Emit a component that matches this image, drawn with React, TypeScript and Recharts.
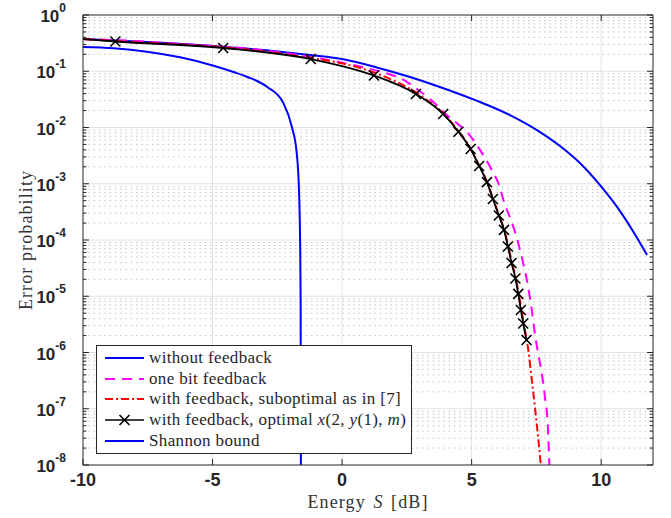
import React from 'react';
import { LineChart, Line, XAxis, YAxis, ReferenceLine } from 'recharts';

// ---------- axes ----------
const xTicks = [-10, -5, 0, 5, 10];
const yTicks = [1e-8, 1e-7, 1e-6, 1e-5, 1e-4, 1e-3, 1e-2, 1e-1, 1];
const xDomain = [-10, 12];
const yDomain = [1e-8, 1];

// ---------- series: without feedback ----------
const noFbX = [-10, -7.5, -5, -2.5, -1.23, 0.05, 1.34, 2.62, 3.91, 5.19, 6.48, 7.64, 8.41, 9.18, 10.02, 10.72, 11.37, 11.77];
const noFbY = [0.374, 0.33, 0.28, 0.225, 0.194, 0.163, 0.117, 0.079, 0.05, 0.030, 0.0166, 0.0083, 0.0047, 0.00234, 8.7e-4, 3.3e-4, 1.12e-4, 5.4e-5];

// ---------- series: one bit feedback ----------
const oneBitX = [-10, -8, -6, -4, -2, 0, 1.0, 1.72, 2.5, 2.94, 3.5, 4.04, 4.5, 4.81, 5.32, 5.71, 6.03, 6.29, 6.54, 6.8, 6.99, 7.18, 7.32, 7.44, 7.56, 7.7, 7.83, 7.94, 8.0];
const oneBitY = [0.374, 0.345, 0.30, 0.262, 0.205, 0.142, 0.112, 0.092, 0.065, 0.0464, 0.029, 0.0167, 0.0112, 0.0084, 0.004, 0.002, 0.00102, 4.2e-4, 2.12e-4, 8.75e-5, 3.86e-5, 1.48e-5, 5.7e-6, 2.19e-6, 1.0e-6, 4.5e-7, 1.6e-7, 5.0e-8, 1e-8];

// ---------- series: with feedback, suboptimal ----------
const subX = [-10, -8.75, -6, -4.59, -3, -1.2, 0, 1.23, 2.0, 2.85, 3.4, 3.9, 4.49, 4.96, 5.29, 5.6, 5.83, 6.06, 6.26, 6.42, 6.56, 6.71, 6.82, 6.93, 7.02, 7.2, 7.33, 7.45, 7.57, 7.67];
const subY = [0.374, 0.345, 0.295, 0.268, 0.225, 0.172, 0.138, 0.095, 0.068, 0.042, 0.028, 0.018, 0.0086, 0.0042, 0.0021, 0.00107, 5.4e-4, 2.75e-4, 1.5e-4, 7.6e-5, 3.9e-5, 2.05e-5, 1.08e-5, 5.6e-6, 3.2e-6, 1.0e-6, 3.0e-7, 1.0e-7, 3.0e-8, 1e-8];

// ---------- series: with feedback, optimal (markers) ----------
const optX = [-10, -8.75, -4.59, -1.21, 1.23, 2.85, 3.9, 4.49, 4.96, 5.29, 5.59, 5.82, 6.05, 6.25, 6.4, 6.54, 6.69, 6.8, 6.9, 6.99, 7.12];
const optY = [0.374, 0.338, 0.259, 0.165, 0.084, 0.0394, 0.0174, 0.0084, 0.00415, 0.00207, 0.00107, 5.35e-4, 2.73e-4, 1.51e-4, 7.66e-5, 3.9e-5, 2.07e-5, 1.1e-5, 5.7e-6, 3.28e-6, 1.67e-6];

// ---------- series: Shannon bound ----------
const shanX = [-10, -8.82, -7.53, -6.25, -4.96, -4.19, -3.68, -2.9, -2.26, -1.94, -1.75, -1.66, -1.62, -1.6, -1.59];
const shanY = [0.27, 0.256, 0.223, 0.177, 0.1256, 0.097, 0.08, 0.053, 0.0269, 0.0103, 0.00348, 6.8e-4, 8.85e-5, 8.5e-6, 1e-8];

const legendLabels = [
  'without feedback',
  'one bit feedback',
  'with feedback, suboptimal as in [7]',
  'with feedback, optimal',
  'Shannon bound',
];

const toPts = (xs: number[], ys: number[]) => xs.map((x, i) => ({ x, y: ys[i] }));

const noFb = toPts(noFbX, noFbY);
const oneBit = toPts(oneBitX, oneBitY);
const sub = toPts(subX, subY);
const opt = toPts(optX, optY);
const shan = toPts(shanX, shanY);

const minorY: number[] = [];
for (let d = -8; d < 0; d++) {
  for (let k = 2; k <= 9; k++) minorY.push(k * Math.pow(10, d));
}
const gridX = [-5, 0, 5, 10];

const AX = '#262626';
const TICKFONT = '"Liberation Sans", Arial, Helvetica, sans-serif';
const SERIF = '"Liberation Serif", "Times New Roman", serif';

const YTick = (props: any) => {
  const { x, y, payload } = props;
  const e = Math.round(Math.log10(payload.value));
  return (
    <text x={x} y={y + 7} textAnchor="end" fontFamily={TICKFONT} fontWeight="bold" fill={AX}>
      <tspan fontSize={17}>10</tspan>
      <tspan fontSize={12} dy={-10}>{String(e)}</tspan>
    </text>
  );
};

const XTick = (props: any) => {
  const { x, y, payload } = props;
  return (
    <text x={x} y={y + 13} textAnchor="middle" fontFamily={TICKFONT} fontWeight="bold" fontSize={18} fill={AX}>
      {String(payload.value)}
    </text>
  );
};

const XMark = (props: any) => {
  const { cx, cy, index } = props;
  if (index === 0 || cx == null) return <g key={`m-${index}`} />;
  const s = 5;
  return (
    <path
      key={`m-${index}`}
      d={`M${cx - s},${cy - s}L${cx + s},${cy + s}M${cx - s},${cy + s}L${cx + s},${cy - s}`}
      stroke="#000"
      strokeWidth={1.6}
      fill="none"
    />
  );
};

const MAJ_X = 0.23; // tick length in dB units
const MIN_X = 0.13;
const TICK_Y_FACTOR = 1.28;

const LegendSym = ({ color, dash, marker }: { color: string; dash?: string; marker?: boolean }) => (
  <svg width={42} height={12} style={{ display: 'block' }}>
    <line x1={1} y1={6} x2={40} y2={6} stroke={color} strokeWidth={marker ? 1.6 : 2} strokeDasharray={dash} />
    {marker && <path d="M15.5,1L25.5,11M15.5,11L25.5,1" stroke="#000" strokeWidth={1.6} />}
  </svg>
);

export default function App() {
  const legendRows = [
    { color: '#0000ff', dash: undefined, marker: false, label: <span>{legendLabels[0]}</span> },
    { color: '#ff00ff', dash: '10 7', marker: false, label: <span>{legendLabels[1]}</span> },
    { color: '#ff0000', dash: '8 3 2 3', marker: false, label: <span>{legendLabels[2]}</span> },
    {
      color: '#000000',
      dash: undefined,
      marker: true,
      label: (
        <span>
          {legendLabels[3]} <i>x</i>(2, <i>y</i>(1), <i>m</i>)
        </span>
      ),
    },
    { color: '#0000ff', dash: undefined, marker: false, label: <span>{legendLabels[4]}</span> },
  ];

  return (
    <div style={{ position: 'absolute', left: 0, top: 0, width: 671, height: 518, background: '#fff' }}>
      <LineChart width={671} height={518} margin={{ top: 15, right: 18, bottom: 0, left: 0 }}>
        {/* grid */}
        {gridX.map((v) => (
          <ReferenceLine key={`gx${v}`} x={v} stroke="#e2e2e2" strokeWidth={1} />
        ))}
        {yTicks.slice(1, -1).map((v) => (
          <ReferenceLine key={`gy${v}`} y={v} stroke="#e2e2e2" strokeWidth={1} />
        ))}
        {minorY.map((v) => (
          <ReferenceLine key={`gm${v}`} y={v} stroke="#c4c4c4" strokeWidth={1} strokeDasharray="1.5 3.8" />
        ))}

        <XAxis
          dataKey="x"
          type="number"
          domain={xDomain}
          ticks={xTicks}
          allowDataOverflow
          height={53}
          stroke={AX}
          tickLine={false}
          tickSize={0}
          tickMargin={8}
          tick={<XTick />}
          label={{
            content: (p: any) => {
              const vb = p.viewBox || { x: 83, y: 465, width: 570, height: 53 };
              return (
                <text x={vb.x + vb.width / 2} y={508} textAnchor="middle" fontFamily={SERIF} fontSize={18} fill="#333" letterSpacing={1.1} wordSpacing={2}>
                  Energy <tspan fontStyle="italic">S</tspan> [dB]
                </text>
              );
            },
          }}
        />
        <YAxis
          type="number"
          scale="log"
          domain={yDomain}
          ticks={yTicks}
          allowDataOverflow
          width={83}
          stroke={AX}
          tickLine={false}
          tickSize={0}
          tickMargin={17}
          tick={<YTick />}
          label={{
            content: (p: any) => {
              const vb = p.viewBox || { x: 0, y: 15, width: 83, height: 450 };
              const cy = vb.y + vb.height / 2;
              return (
                <text transform={`translate(32,${cy}) rotate(-90)`} textAnchor="middle" fontFamily={SERIF} fontSize={18} fill="#333" letterSpacing={1.1}>
                  Error probability
                </text>
              );
            },
          }}
        />

        <Line data={noFb} dataKey="y" type="monotone" stroke="#0000ff" strokeWidth={2} dot={false} isAnimationActive={false} />
        <Line data={oneBit} dataKey="y" type="monotone" stroke="#ff00ff" strokeWidth={2} strokeDasharray="10 7" dot={false} isAnimationActive={false} />
        <Line data={sub} dataKey="y" type="monotone" stroke="#ff0000" strokeWidth={2} strokeDasharray="8 3 2 3" dot={false} isAnimationActive={false} />
        <Line data={opt} dataKey="y" type="monotone" stroke="#000000" strokeWidth={1.8} dot={<XMark />} isAnimationActive={false} />
        <Line data={shan} dataKey="y" type="monotone" stroke="#0000ff" strokeWidth={2} dot={false} isAnimationActive={false} />

        {/* box */}
        <ReferenceLine y={1} stroke={AX} strokeWidth={1} />
        <ReferenceLine x={12} stroke={AX} strokeWidth={1} />

        {/* major ticks on y (left & right) */}
        {yTicks.map((v) => (
          <ReferenceLine key={`tl${v}`} segment={[{ x: -10, y: v }, { x: -10 + MAJ_X, y: v }]} stroke={AX} />
        ))}
        {yTicks.map((v) => (
          <ReferenceLine key={`tr${v}`} segment={[{ x: 12 - MAJ_X, y: v }, { x: 12, y: v }]} stroke={AX} />
        ))}
        {minorY.map((v) => (
          <ReferenceLine key={`ml${v}`} segment={[{ x: -10, y: v }, { x: -10 + MIN_X, y: v }]} stroke={AX} />
        ))}
        {minorY.map((v) => (
          <ReferenceLine key={`mr${v}`} segment={[{ x: 12 - MIN_X, y: v }, { x: 12, y: v }]} stroke={AX} />
        ))}
        {/* ticks on x (bottom & top) */}
        {xTicks.map((v) => (
          <ReferenceLine key={`tb${v}`} segment={[{ x: v, y: 1e-8 }, { x: v, y: 1e-8 * TICK_Y_FACTOR }]} stroke={AX} />
        ))}
        {xTicks.map((v) => (
          <ReferenceLine key={`tt${v}`} segment={[{ x: v, y: 1 / TICK_Y_FACTOR }, { x: v, y: 1 }]} stroke={AX} />
        ))}
      </LineChart>

      <div
        style={{
          position: 'absolute',
          left: 96,
          top: 345,
          width: 314,
          height: 105,
          border: `1px solid ${AX}`,
          background: '#fff',
          boxSizing: 'content-box',
          paddingTop: 2,
        }}
      >
        {legendRows.map((r, i) => (
          <div key={i} style={{ display: 'flex', alignItems: 'center', height: 20.6, marginLeft: 7 }}>
            <LegendSym color={r.color} dash={r.dash} marker={r.marker} />
            <span style={{ fontFamily: SERIF, fontSize: 17, color: '#262626', marginLeft: 3, letterSpacing: 0.35, whiteSpace: 'nowrap' }}>
              {r.label}
            </span>
          </div>
        ))}
      </div>
    </div>
  );
}
